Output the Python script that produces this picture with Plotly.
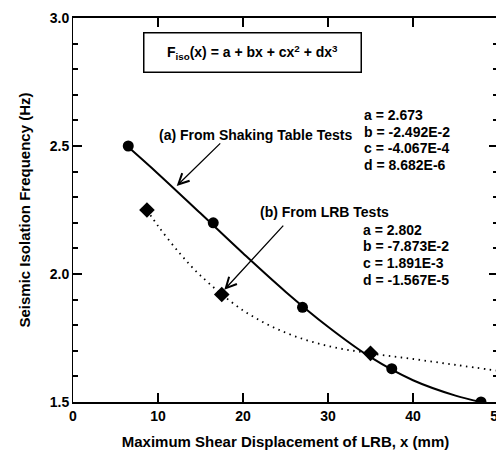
import plotly.graph_objects as go

# Measured points
x_table = [6.5, 16.5, 27.0, 37.5, 48.0]
y_table = [2.50, 2.20, 1.87, 1.63, 1.50]
x_lrb = [8.7, 17.5, 35.0]
y_lrb = [2.25, 1.92, 1.69]

# Fitted curves
x_fit_a = [6.5, 10, 15, 20, 25, 30, 35, 40, 45, 48]
y_fit_a = [2.496, 2.392, 2.237, 2.081, 1.931, 1.794, 1.675, 1.585, 1.525, 1.500]
x_fit_b = [8.7, 10, 12.5, 15, 20, 25, 30, 35, 40, 45, 50]
y_fit_b = [2.250, 2.188, 2.083, 1.994, 1.858, 1.771, 1.719, 1.690, 1.668, 1.645, 1.622]

coef_a = ["a = 2.673", "b = -2.492E-2", "c = -4.067E-4", "d = 8.682E-6"]
coef_b = ["a = 2.802", "b = -7.873E-2", "c = 1.891E-3", "d = -1.567E-5"]

x_ticks = [0, 10, 20, 30, 40, 50]
y_ticks = [1.5, 2.0, 2.5, 3.0]

FONT = "Liberation Sans, Arial, Helvetica, sans-serif"

fig = go.Figure()
fig.add_trace(go.Scatter(x=x_fit_b, y=y_fit_b, mode="lines",
                         line=dict(color="black", width=1.8, dash="1.5px,4.5px", shape="spline"),
                         hoverinfo="skip", showlegend=False))
fig.add_trace(go.Scatter(x=x_fit_a, y=y_fit_a, mode="lines",
                         line=dict(color="black", width=2, shape="spline"),
                         hoverinfo="skip", showlegend=False))
fig.add_trace(go.Scatter(x=x_table, y=y_table, mode="markers",
                         marker=dict(symbol="circle", size=11, color="black"),
                         showlegend=False))
fig.add_trace(go.Scatter(x=x_lrb, y=y_lrb, mode="markers",
                         marker=dict(symbol="diamond", size=12, color="black"),
                         showlegend=False))

ann_font = dict(family=FONT, size=14, color="black", weight="bold")

# Formula box
fig.add_annotation(x=21.1, y=2.866, xref="x", yref="y", showarrow=False,
                   text="F<sub>iso</sub>(x) = a + bx + cx<sup>2</sup> + dx<sup>3</sup>",
                   font=ann_font, width=216, height=38, align="center", valign="middle",
                   bordercolor="black", borderwidth=1.5, borderpad=0, bgcolor="white")

# Labels
fig.add_annotation(x=9.9, y=2.543, xref="x", yref="y", showarrow=False,
                   xanchor="left", yanchor="middle",
                   text="(a) From Shaking Table Tests", font=ann_font)
fig.add_annotation(x=21.8, y=2.242, xref="x", yref="y", showarrow=False,
                   xanchor="left", yanchor="middle",
                   text="(b) From LRB Tests", font=ann_font)

line_step = 0.0645
for i, t in enumerate(coef_a):
    fig.add_annotation(x=34.0, y=2.621 - i * line_step, xref="x", yref="y", showarrow=False,
                       xanchor="left", yanchor="middle", text=t, font=ann_font)
for i, t in enumerate(coef_b):
    fig.add_annotation(x=33.9, y=2.172 - i * line_step, xref="x", yref="y", showarrow=False,
                       xanchor="left", yanchor="middle", text=t, font=ann_font)

# Arrows
fig.add_annotation(x=12.2, y=2.344, ax=17.5, ay=2.516, xref="x", yref="y",
                   axref="x", ayref="y", text="", showarrow=True,
                   arrowhead=5, arrowsize=1.6, arrowwidth=1.3, arrowcolor="black")
fig.add_annotation(x=17.8, y=1.938, ax=24.9, ay=2.195, xref="x", yref="y",
                   axref="x", ayref="y", text="", showarrow=True,
                   arrowhead=5, arrowsize=1.6, arrowwidth=1.3, arrowcolor="black")

# x axis: base settings + line width, tick font, title
fig.update_xaxes(range=[0, 50], ticks="inside", ticklen=9, tickwidth=2, tickcolor="black",
                 showline=True, linecolor="black", mirror="allticks", linewidth=1.5,
                 tickmode="linear", tick0=0, dtick=10,
                 tickfont=dict(family=FONT, size=14, color="black", weight="bold"),
                 title=dict(text="Maximum Shear Displacement of LRB, x (mm)",
                            font=dict(family=FONT, size=15, color="black", weight="bold"),
                            standoff=14))
# y axis: base settings + tick arrays, minor ticks, grid/zeroline off
fig.update_yaxes(range=[1.5, 3.0], ticks="inside", ticklen=9, tickwidth=2, tickcolor="black",
                 showline=True, linecolor="black", mirror="allticks",
                 tickmode="array", tickvals=y_ticks, ticktext=[f"<b>{v:.1f}</b>" for v in y_ticks],
                 showgrid=False, zeroline=False,
                 minor=dict(ticks="inside", dtick=0.1, ticklen=5, tickcolor="black"),
                 tickfont=dict(family=FONT, size=14, color="black"),
                 title=dict(text="<b>Seismic Isolation Frequency (Hz)</b>",
                            font=dict(family=FONT, size=15, color="black"),
                            standoff=15))

fig.update_layout(width=504, height=455, template="simple_white",
                  margin=dict(l=65, r=14, t=10, b=61, autoexpand=False),
                  font=dict(family=FONT, color="black"), showlegend=False)

fig.write_html("out.html")
